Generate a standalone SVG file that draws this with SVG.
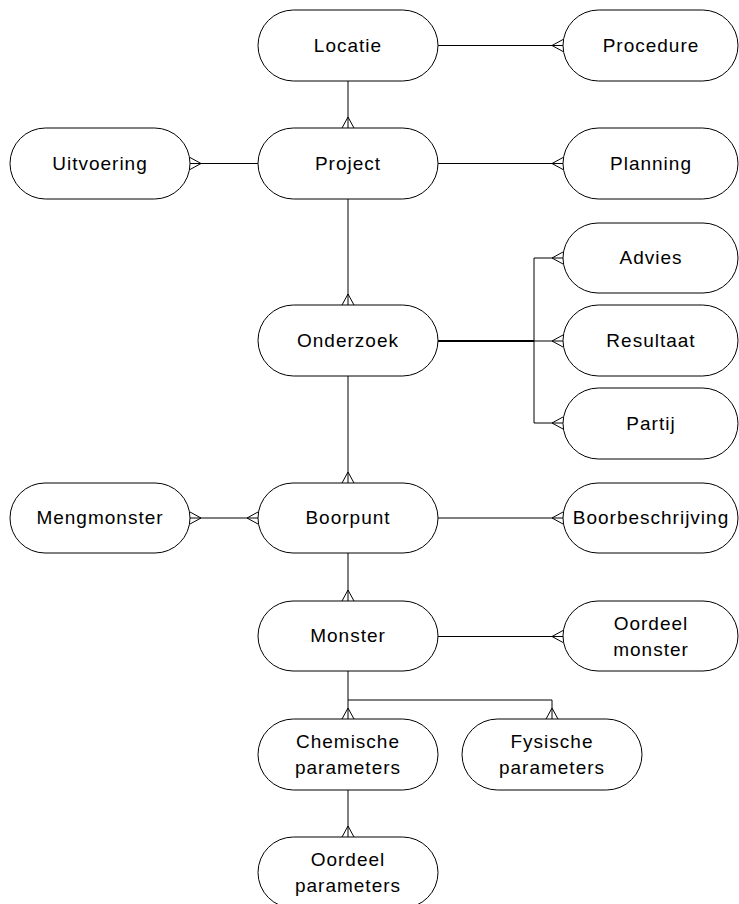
<svg xmlns="http://www.w3.org/2000/svg" width="739" height="904" viewBox="0 0 739 904">
<style>
.n{fill:#fff;stroke:#000;stroke-width:1}
.t{font-family:"Liberation Sans",Arial,sans-serif;font-size:19px;letter-spacing:1px;fill:#000;text-anchor:middle}
.c{fill:none;stroke:#000;stroke-width:1}
</style>
<rect width="739" height="904" fill="#fff"/>
<g id="connectors" class="c">
<path d="M438 45.5H563 M552 45.5L563 39.5 M552 45.5L563 51.5"/>
<path d="M348 81V128 M348 117L342 128 M348 117L354 128"/>
<path d="M258 163.5H190 M201 163.5L190 157.5 M201 163.5L190 169.5"/>
<path d="M438 163.5H563 M552 163.5L563 157.5 M552 163.5L563 169.5"/>
<path d="M348 199V305 M348 294L342 305 M348 294L354 305"/>
<path d="M438 341H534" stroke-width="2"/>
<path d="M534 341H563 M534 258V423 M534 258H563 M534 423H563"/>
<path d="M552 258L563 252 M552 258L563 264 M552 341L563 335 M552 341L563 347 M552 423L563 417 M552 423L563 429"/>
<path d="M348 376V483 M348 472L342 483 M348 472L354 483"/>
<path d="M258 518H190 M201 518L190 512 M201 518L190 524 M247 518L258 512 M247 518L258 524"/>
<path d="M438 518H563 M552 518L563 512 M552 518L563 524"/>
<path d="M348 553V601 M348 590L342 601 M348 590L354 601"/>
<path d="M438 636.5H563 M552 636.5L563 630.5 M552 636.5L563 642.5"/>
<path d="M348 671V719 M348 708L342 719 M348 708L354 719"/>
<path d="M348 700H552V719 M552 708L546 719 M552 708L558 719"/>
<path d="M348 790V837 M348 826L342 837 M348 826L354 837"/>
</g>
<g id="locatie"><rect class="n" x="258" y="10" width="180" height="71" rx="35.5"/><text class="t" x="348" y="52">Locatie</text></g>
<g id="procedure"><rect class="n" x="563" y="10" width="175" height="71" rx="35.5"/><text class="t" x="651" y="52">Procedure</text></g>
<g id="uitvoering"><rect class="n" x="10" y="128" width="180" height="71" rx="35.5"/><text class="t" x="100" y="170">Uitvoering</text></g>
<g id="project"><rect class="n" x="258" y="128" width="180" height="71" rx="35.5"/><text class="t" x="348" y="170">Project</text></g>
<g id="planning"><rect class="n" x="563" y="128" width="175" height="71" rx="35.5"/><text class="t" x="651" y="170">Planning</text></g>
<g id="advies"><rect class="n" x="563" y="223" width="175" height="70" rx="35"/><text class="t" x="651" y="264">Advies</text></g>
<g id="onderzoek"><rect class="n" x="258" y="305" width="180" height="71" rx="35.5"/><text class="t" x="348" y="347">Onderzoek</text></g>
<g id="resultaat"><rect class="n" x="563" y="305" width="175" height="71" rx="35.5"/><text class="t" x="651" y="347">Resultaat</text></g>
<g id="partij"><rect class="n" x="563" y="388" width="175" height="71" rx="35.5"/><text class="t" x="651" y="430">Partij</text></g>
<g id="mengmonster"><rect class="n" x="10" y="483" width="180" height="70" rx="35"/><text class="t" x="100" y="524">Mengmonster</text></g>
<g id="boorpunt"><rect class="n" x="258" y="483" width="180" height="70" rx="35"/><text class="t" x="348" y="524">Boorpunt</text></g>
<g id="boorbeschrijving"><rect class="n" x="563" y="483" width="175" height="70" rx="35"/><text class="t" x="651" y="524">Boorbeschrijving</text></g>
<g id="monster"><rect class="n" x="258" y="601" width="180" height="70" rx="35"/><text class="t" x="348" y="642">Monster</text></g>
<g id="oordeel-monster"><rect class="n" x="563" y="601" width="175" height="70" rx="35"/><text class="t" x="651" y="630">Oordeel</text><text class="t" x="651" y="656">monster</text></g>
<g id="chemische-parameters"><rect class="n" x="258" y="719" width="180" height="71" rx="35.5"/><text class="t" x="348" y="748">Chemische</text><text class="t" x="348" y="774">parameters</text></g>
<g id="fysische-parameters"><rect class="n" x="462" y="719" width="180" height="71" rx="35.5"/><text class="t" x="552" y="748">Fysische</text><text class="t" x="552" y="774">parameters</text></g>
<g id="oordeel-parameters"><rect class="n" x="258" y="837" width="180" height="71" rx="35.5"/><text class="t" x="348" y="866">Oordeel</text><text class="t" x="348" y="892">parameters</text></g>
</svg>
